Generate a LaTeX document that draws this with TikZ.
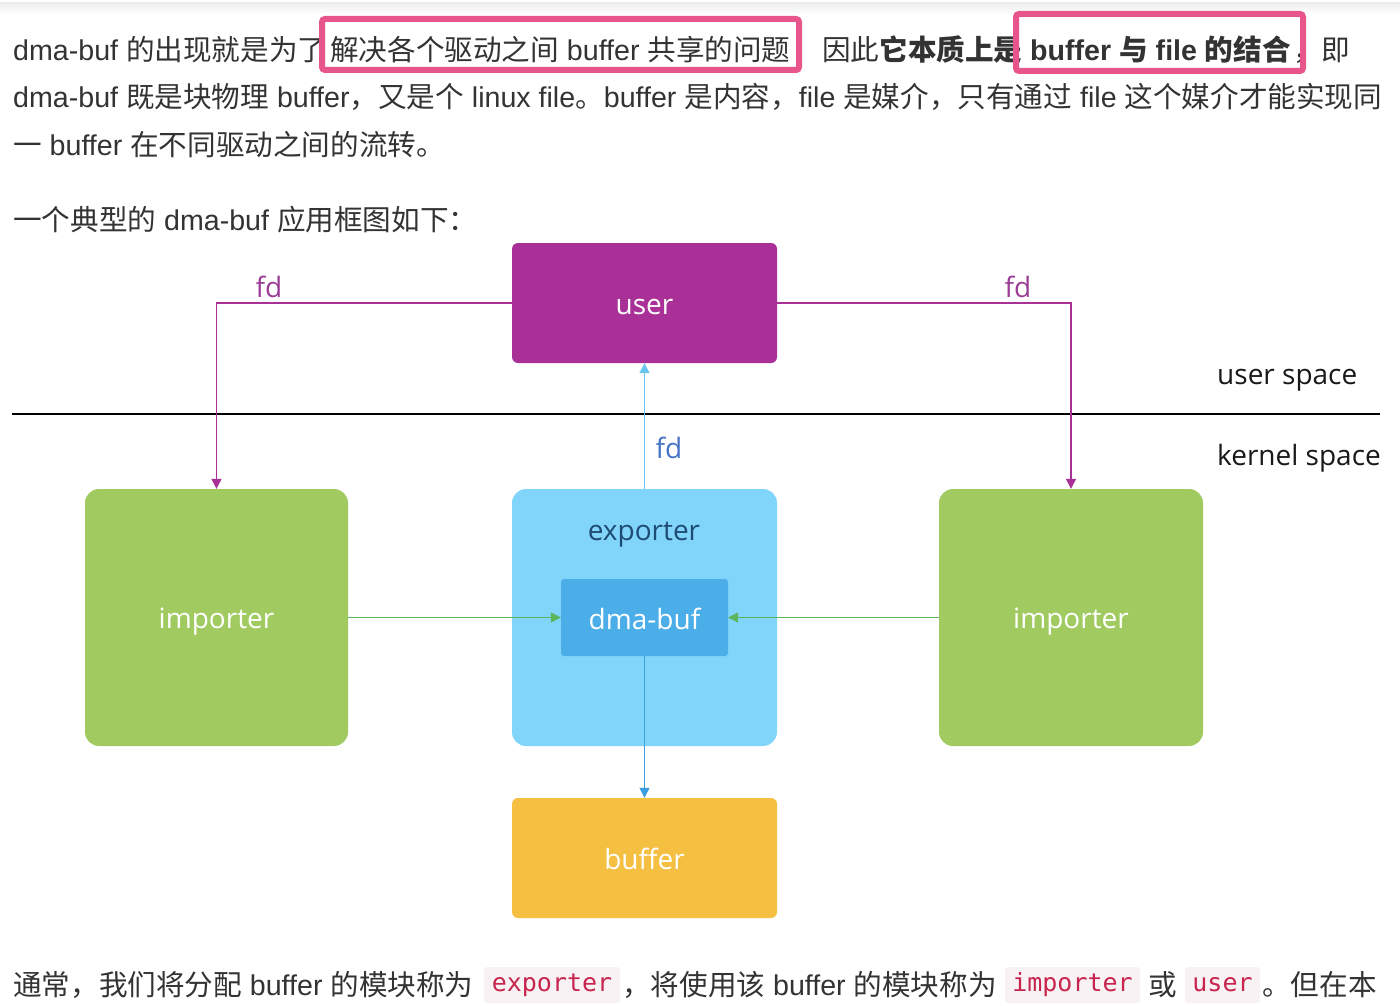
\documentclass[tikz,border=0pt]{standalone}
\usepackage{fontspec}
\setmainfont{Liberation Sans}
\setmonofont{DejaVu Sans Mono}
\newfontfamily\cjk{Noto Sans CJK SC}
\newfontfamily\dia{Open Sans}
\usetikzlibrary{arrows.meta}
\newcommand\zh[1]{{\cjk #1}}
\definecolor{txtc}{HTML}{333333}
\definecolor{pinkc}{HTML}{E8558A}
\definecolor{cuser}{HTML}{A83096}
\definecolor{cgreen}{HTML}{A1CB61}
\definecolor{cexp}{HTML}{81D4FA}
\definecolor{cdma}{HTML}{4BAEE8}
\definecolor{cbuf}{HTML}{F5BF41}
\definecolor{cexptxt}{HTML}{1E4B74}
\definecolor{cfdp}{HTML}{9B3D97}
\definecolor{cfdb}{HTML}{4472C4}
\definecolor{cbup}{HTML}{6CC5EF}
\definecolor{cbdown}{HTML}{3D9FE0}
\definecolor{cgconn}{HTML}{5BB55B}
\definecolor{codebg}{HTML}{F9F2F4}
\definecolor{codetxt}{HTML}{C7254E}
\tikzset{
  txt/.style={anchor=base west, inner sep=0pt, text=txtc, font=\fontsize{28.6}{34}\selectfont},
  hl/.style={draw=pinkc, line width=6pt, rounded corners=3pt},
  codebox/.style={fill=codebg, rounded corners=3pt, inner sep=0pt, text=codetxt, font=\ttfamily\fontsize{25}{30}\selectfont, minimum height=36pt},
  box/.style={inner sep=0pt, text=white, font=\dia\fontsize{28}{34}\selectfont},
  lbl/.style={inner sep=0pt, font=\dia\fontsize{28}{34}\selectfont},
  pconn/.style={draw=cuser, line width=1.2pt, -{Triangle[length=10pt,width=10pt]}},
  bconn/.style={draw=cbup, line width=1.2pt, -{Triangle[length=10pt,width=10pt]}},
  dconn/.style={draw=cbdown, line width=1.2pt, -{Triangle[length=10pt,width=10pt]}},
  gconn/.style={draw=cgconn, line width=1.2pt, -{Triangle[length=10pt,width=10pt]}},
}
\begin{document}
\begin{tikzpicture}[x=1pt,y=-1pt]
\useasboundingbox (0,0) rectangle (1400,1006);
\fill[white] (0,0) rectangle (1400,1006);
\shade[top color=black!7, bottom color=white] (0,3) rectangle (1400,14);

% paragraph text
\node[txt] (l1a) at (13,61) {dma-buf \zh{的出现就是为了}};
\node[txt] (l1b) at (330,61) {\zh{解决各个驱动之间} buffer \zh{共享的问题}};
\node[txt] (l1c) at (822,61) {\zh{因此}\textbf{\zh{它本质上是}}};
\node[txt] (l1d) at (1030,61) {\textbf{buffer \zh{与} file \zh{的结合}}};
\node[txt] (l1e) at (1293,61) {\zh{，即}};
\draw[hl] (322,19) rectangle (799,70);
\draw[hl] (1016,14) rectangle (1303,71);
\node[txt] (l2) at (13,108) {dma-buf \zh{既是块物理} buffer\zh{，又是个} linux file\zh{。}buffer \zh{是内容，}file \zh{是媒介，只有通过} file \zh{这个媒介才能实现同}};
\node[txt] (l3) at (13,155) {\zh{一} buffer \zh{在不同驱动之间的流转。}};
\node[txt] (l4) at (13,230) {\zh{一个典型的} dma-buf \zh{应用框图如下：}};

% bottom text
\node[txt] (b1) at (13,995) {\zh{通常，我们将分配} buffer \zh{的模块称为}};
\node[codebox, minimum width=136pt] (c1) at (552,985) {exporter};
\node[txt] (b2) at (622,995) {\zh{，将使用该} buffer \zh{的模块称为}};
\node[codebox, minimum width=135pt] (c2) at (1072.5,985) {importer};
\node[txt] (b3) at (1148,995) {\zh{或}};
\node[codebox, minimum width=75pt] (c3) at (1222.5,985) {user};
\node[txt] (b4) at (1262,995) {\zh{。但在本}};

% separator
\coordinate (sepL) at (12,414);
\coordinate (sepR) at (1380,414);
\draw[line width=1.3pt, black] (sepL) -- (sepR);
\node[lbl, anchor=west, text=black!90] (us) at (1217,380) {user space};
\node[lbl, anchor=west, text=black!90] (ks) at (1217,458) {kernel space};

% diagram boxes
\node[box, fill=cuser, minimum width=265pt, minimum height=120pt, rounded corners=6pt] (user) at (644.5,303) {};
\node[box] (userlbl) at (644.5,307) {user};
\node[box, fill=cgreen, minimum width=263pt, minimum height=257pt, rounded corners=14pt] (impL) at (216.5,617.5) {};
\node[box] (impLlbl) at (216.5,621.5) {importer};
\node[box, fill=cgreen, minimum width=264pt, minimum height=257pt, rounded corners=14pt] (impR) at (1071,617.5) {};
\node[box] (impRlbl) at (1071,621.5) {importer};
\node[box, fill=cexp, minimum width=265pt, minimum height=257pt, rounded corners=14pt] (exp) at (644.5,617.5) {};
\node[lbl, text=cexptxt] (explbl) at (644,535) {exporter};
\node[box, fill=cdma, minimum width=167pt, minimum height=77pt, rounded corners=3pt] (dma) at (644.5,617.5) {};
\node[box] (dmalbl) at (644.5,619) {dma-buf};
\node[box, fill=cbuf, minimum width=265pt, minimum height=120pt, rounded corners=6pt] (buf) at (644.5,858) {};
\node[box] (buflbl) at (644.5,859) {buffer};

% connectors
\draw[pconn] (user.west) -| (impL.north);
\draw[pconn] (user.east) -| (impR.north);
\node[lbl, text=cfdp] (fd1) at (269,287) {fd};
\node[lbl, text=cfdp] (fd2) at (1018,287) {fd};
\draw[bconn] (exp.north) -- (user.south);
\node[lbl, text=cfdb] (fd3) at (669,448) {fd};
\draw[gconn] (impL.east) -- (dma.west);
\draw[gconn] (impR.west) -- (dma.east);
\draw[dconn] (dma.south) -- (buf.north);
\end{tikzpicture}
\end{document}
